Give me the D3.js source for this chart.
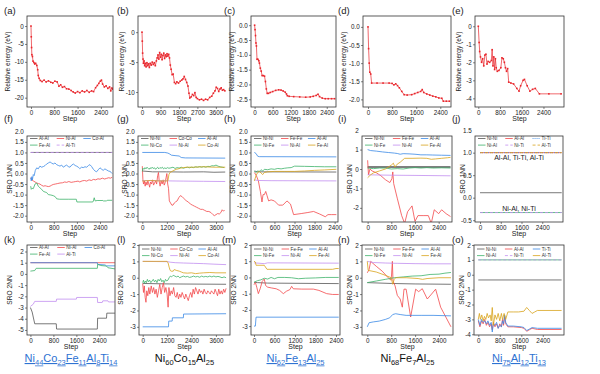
<!DOCTYPE html>
<html>
<head>
<meta charset="utf-8">
<script src="https://cdn.jsdelivr.net/npm/d3@7"></script>
<style>
body { margin: 0; background: #fff; }
svg { font-family: "Liberation Sans", Arial, sans-serif; }
</style>
</head>
<body>
<svg id="fig" width="600" height="374"></svg>
<script>
// ---- tick labels ----
const ticks600 = [0, 600, 1200, 1800, 2400];
const ticks800 = [0, 800, 1600, 2400];
const ticks900 = [0, 900, 1800, 2700, 3600];
const ticks1200 = [0, 1200, 2400, 3600];
const yTicksA = [0, -5, -10, -15, -20];
const yTicksB = [0, -5, -10];
const yTicksC = [0, -0.5, -1, -1.5, -2, -2.5];
const yTicksD = [0, -0.5, -1, -1.5, -2];
const yTicksE = [0, -1, -2, -3, -4];
const yTicks1NN = [2, 1.5, 1, 0.5, 0, -0.5, -1, -1.5, -2];
const yTicksI = [2, 1, 0, -1, -2];
const yTicksJ = [1.5, 1, 0.5, 0, -0.5];
const yTicksK = [2, 1, 0, -1, -2, -3, -4, -5];
const yTicks2NN = [2, 1, 0, -1, -2, -3];
const yTicksO = [2, 1, 0, -1, -2, -3, -4];

// ---- alloys ----
const alloyK = [["Ni", "44"], ["Co", "23"], ["Fe", "11"], ["Al", "8"], ["Ti", "14"]];
const alloyL = [["Ni", "60"], ["Co", "15"], ["Al", "25"]];
const alloyM = [["Ni", "62"], ["Fe", "13"], ["Al", "25"]];
const alloyN = [["Ni", "68"], ["Fe", "7"], ["Al", "25"]];
const alloyO = [["Ni", "75"], ["Al", "12"], ["Ti", "13"]];

// ---- relative energy [step, eV] ----
const energyA = [[0,0],[10,-3],[20,-6],[30,-8],[50,-8.5],[70,-9.8],[100,-10.2],[130,-10.6],[160,-10.4],[200,-11],[230,-12.2],[250,-13.8],[280,-14.6],[320,-15.2],[380,-15.5],[450,-15.1],[520,-15.6],[600,-15.3],[680,-15.7],[750,-15.9],[820,-15.4],[900,-15.6],[960,-16.8],[1020,-16.4],[1080,-17.1],[1150,-16.9],[1220,-17.5],[1300,-17.6],[1380,-18.0],[1450,-18.4],[1520,-18.7],[1600,-18.3],[1680,-18.6],[1760,-18.1],[1840,-18.4],[1920,-18.0],[2000,-18.5],[2080,-18.1],[2150,-18.3],[2220,-17.2],[2280,-16.6],[2330,-16.0],[2380,-15.4],[2420,-15.1],[2460,-16.2],[2520,-17.0],[2580,-16.7],[2640,-17.4],[2700,-17.0],[2740,-18.1],[2780,-17.3],[2810,-17.6]];
const energyB = [[0,0],[15,-1.5],[30,-3.5],[50,-4.5],[70,-5.2],[100,-4.8],[130,-5.6],[160,-5.2],[200,-5.8],[240,-5.1],[280,-5.6],[320,-5.3],[360,-5.9],[400,-5.2],[450,-5.5],[500,-5.0],[550,-5.4],[600,-5.1],[650,-5.6],[700,-4.8],[740,-4.3],[780,-3.8],[820,-4.5],[860,-3.4],[900,-4.2],[940,-3.7],[980,-4.6],[1020,-3.9],[1060,-3.5],[1100,-4.4],[1140,-3.8],[1180,-4.1],[1220,-3.6],[1260,-4.0],[1300,-3.7],[1340,-4.3],[1380,-5.5],[1420,-6.2],[1470,-7.1],[1520,-7.0],[1580,-8.4],[1640,-8.6],[1700,-8.3],[1780,-8.5],[1860,-8.2],[1940,-8.0],[2000,-7.8],[2060,-7.4],[2120,-7.9],[2180,-8.4],[2240,-9.0],[2290,-10.2],[2330,-11.0],[2400,-10.8],[2460,-10.4],[2520,-10.6],[2580,-10.1],[2640,-10.9],[2700,-11.1],[2800,-11.3],[2900,-11.2],[3000,-11.4],[3100,-11.2],[3200,-11.3],[3300,-10.9],[3400,-10.7],[3480,-10.2],[3560,-9.8],[3620,-9.2],[3680,-9.4],[3740,-9.9],[3800,-9.5],[3860,-9.3],[3920,-9.7],[3980,-9.6],[4040,-9.8]];
const energyC = [[0,0],[15,-0.15],[30,-0.35],[45,-0.6],[60,-0.7],[80,-1.15],[110,-1.15],[140,-1.2],[160,-1.28],[190,-1.45],[220,-1.55],[250,-1.7],[290,-1.7],[330,-1.72],[360,-1.9],[390,-2.15],[420,-2.3],[460,-2.3],[520,-2.27],[600,-2.24],[700,-2.2],[800,-2.18],[880,-2.19],[950,-2.22],[1020,-2.26],[1060,-2.32],[1090,-2.38],[1150,-2.4],[1300,-2.41],[1500,-2.42],[1700,-2.43],[1850,-2.42],[1950,-2.4],[2050,-2.37],[2110,-2.33],[2160,-2.41],[2250,-2.46],[2350,-2.48],[2450,-2.48],[2560,-2.48],[2660,-2.48]];
const energyD = [[0,0],[20,-0.6],[40,-1.0],[60,-1.25],[90,-1.3],[120,-1.55],[300,-1.55],[500,-1.55],[700,-1.55],[800,-1.56],[860,-1.6],[920,-1.57],[980,-1.62],[1040,-1.68],[1120,-1.78],[1200,-1.87],[1300,-1.88],[1450,-1.87],[1550,-1.84],[1650,-1.81],[1750,-1.78],[1800,-1.73],[1850,-1.81],[1950,-1.85],[2050,-1.88],[2150,-1.91],[2250,-1.93],[2350,-1.96],[2450,-1.97],[2500,-2.05],[2600,-2.05],[2700,-2.05]];
const energyE = [[0,0],[30,-0.9],[50,-1.4],[80,-1.7],[120,-2.0],[160,-1.8],[200,-2.2],[240,-1.6],[280,-1.55],[320,-2.1],[360,-1.95],[420,-2.0],[480,-1.9],[510,-1.3],[540,-2.2],[570,-1.7],[600,-2.4],[630,-1.8],[660,-2.3],[700,-2.5],[760,-2.45],[830,-2.3],[870,-1.75],[920,-1.8],[960,-2.0],[1000,-2.3],[1040,-2.5],[1080,-2.35],[1120,-3.1],[1200,-3.15],[1300,-3.2],[1420,-3.45],[1500,-3.6],[1560,-3.3],[1650,-3.0],[1700,-2.95],[1800,-3.3],[1900,-3.6],[2000,-3.5],[2100,-3.45],[2250,-3.75],[2600,-3.75],[3050,-3.75]];

// ---- SRO 1NN [step, value] ----
const sroF_AlAl = [[0,1],[2820,1]];
const sroF_NiAl = [[0,-0.2],[40,-0.3],[90,-0.35],[150,-0.4],[210,-0.45],[270,-0.48],[320,-0.5],[380,-0.56],[440,-0.6],[500,-0.58],[550,-0.6],[610,-0.62],[670,-0.6],[730,-0.55],[780,-0.52],[850,-0.5],[920,-0.48],[1015,-0.45],[1100,-0.44],[1180,-0.4],[1245,-0.42],[1320,-0.38],[1400,-0.42],[1480,-0.4],[1560,-0.38],[1640,-0.36],[1700,-0.4],[1780,-0.35],[1860,-0.33],[1940,-0.36],[2020,-0.3],[2100,-0.33],[2170,-0.28],[2250,-0.3],[2330,-0.25],[2400,-0.27],[2480,-0.22],[2560,-0.26],[2630,-0.23],[2700,-0.2],[2760,-0.22],[2820,-0.18]];
const sroF_CoAl = [[0,-0.2],[20,-0.35],[40,-0.15],[60,-0.3],[90,-0.05],[120,-0.1],[160,0.15],[210,0.27],[260,0.22],[320,0.35],[380,0.3],[440,0.33],[500,0.38],[550,0.45],[610,0.5],[670,0.55],[720,0.5],[780,0.45],[840,0.5],[900,0.42],[960,0.38],[1015,0.35],[1070,0.4],[1130,0.3],[1190,0.36],[1245,0.4],[1300,0.33],[1360,0.3],[1420,0.4],[1480,0.45],[1540,0.38],[1590,0.35],[1650,0.3],[1700,0.23],[1760,0.3],[1820,0.28],[1880,0.32],[1940,0.3],[2000,0.38],[2050,0.42],[2110,0.33],[2170,0.2],[2230,0.12],[2280,0.08],[2340,0.18],[2400,0.27],[2460,0.2],[2510,0.15],[2570,0.22],[2630,0.17],[2690,0.12],[2745,0.1],[2790,0.05],[2820,0.0]];
const sroF_FeAl = [[0,-0.6],[20,-0.75],[50,-0.7],[90,-0.72],[150,-0.5],[210,-0.45],[260,-0.6],[320,-0.68],[380,-0.75],[440,-0.85],[500,-0.88],[550,-0.9],[610,-1.0],[700,-1.02],[780,-1.05],[850,-1.1],[900,-1.2],[1000,-1.22],[1300,-1.22],[1580,-1.22],[1600,-1.35],[2150,-1.35],[2170,-1.3],[2200,-1.15],[2230,-1.3],[2300,-1.28],[2500,-1.28],[2520,-1.3],[2630,-1.3],[2650,-1.27],[2820,-1.27]];
const sroF_AlTi = [[0,1],[2820,1]];

const sroG_NiNi = [[0,0.12],[500,0.08],[1200,0.08],[2000,0.07],[3000,0.08],[3500,0.06],[4050,0.07]];
const sroG_CoCo = [[0,0.35],[30,-0.3],[60,-0.5],[100,-0.35],[140,-0.6],[180,-0.4],[230,-0.55],[270,-0.35],[320,-0.5],[360,-0.65],[400,-0.4],[450,-0.5],[500,-0.3],[550,-0.55],[600,-0.45],[650,-0.35],[700,-0.5],[750,-0.1],[790,0.05],[830,-0.4],[870,-0.6],[920,-0.35],[970,-0.5],[1020,-0.3],[1070,-0.55],[1110,-0.45],[1160,-0.2],[1200,0.0],[1240,-0.5],[1280,-0.7],[1320,-1.3],[1380,-1.4],[1440,-1.5],[1500,-1.5],[1560,-1.4],[1620,-1.35],[1700,-1.3],[1780,-1.15],[1860,-1.05],[1950,-1.1],[2050,-1.2],[2150,-1.3],[2250,-1.35],[2350,-1.45],[2450,-1.5],[2550,-1.55],[2650,-1.6],[2750,-1.65],[2850,-1.7],[2950,-1.7],[3050,-1.75],[3150,-1.8],[3250,-1.8],[3350,-1.85],[3450,-1.95],[3520,-2.0],[3600,-1.95],[3680,-1.9],[3760,-1.92],[3840,-1.85],[3900,-1.72],[3960,-1.78],[4020,-1.75]];
const sroG_AlAl = [[0,1.0],[1100,1.0],[1250,0.97],[1350,0.92],[1420,0.87],[1600,0.85],[1800,0.83],[1900,0.76],[2100,0.74],[4050,0.73]];
const sroG_NiCo = [[0,0.1],[30,0.25],[80,0.2],[130,0.28],[180,0.22],[230,0.3],[280,0.25],[330,0.2],[380,0.27],[430,0.23],[480,0.3],[530,0.24],[600,0.27],[650,0.2],[700,0.26],[750,0.3],[800,0.22],[860,0.28],[920,0.25],[980,0.3],[1040,0.22],[1100,0.27],[1160,0.23],[1220,0.28],[1300,0.25],[1400,0.27],[1500,0.3],[1600,0.24],[1700,0.28],[1800,0.26],[1900,0.3],[2000,0.25],[2100,0.28],[2200,0.3],[2300,0.27],[2400,0.3],[2500,0.28],[2600,0.32],[2700,0.3],[2800,0.33],[2900,0.3],[3000,0.33],[3100,0.3],[3200,0.34],[3300,0.33],[3400,0.37],[3500,0.36],[3600,0.4],[3700,0.35],[3800,0.32],[3900,0.3],[4000,0.28]];
const sroG_NiAl = [[0,-0.33],[1200,-0.34],[1300,-0.35],[2000,-0.36],[3000,-0.37],[4050,-0.38]];
const sroG_CoAl = [[0,-0.35],[100,-0.35],[400,-0.33],[800,-0.35],[1250,-0.35],[1300,-0.05],[1350,0.05],[1450,0.1],[1550,0.15],[1650,0.2],[1750,0.22],[1850,0.25],[2000,0.28],[2200,0.3],[2500,0.3],[3000,0.32],[3500,0.3],[4050,0.3]];

const sroH_NiNi = [[0,0.12],[100,0.08],[2450,0.07]];
const sroH_FeFe = [[0,0.05],[60,-0.1],[120,-0.35],[180,-0.85],[228,-1.35],[260,-1.0],[300,-1.0],[340,-0.85],[380,-1.05],[427,-1.3],[500,-1.25],[600,-1.3],[726,-1.5],[850,-1.5],[975,-1.3],[1080,-1.45],[1173,-1.95],[1400,-1.9],[1600,-1.85],[1770,-1.8],[1950,-1.92],[2120,-2.05],[2200,-1.95],[2300,-1.95],[2450,-1.95]];
const sroH_AlAl = [[0,1.0],[50,0.95],[100,0.82],[150,0.8],[2450,0.79]];
const sroH_NiFe = [[0,0.1],[50,0.05],[100,0.12],[150,0.1],[200,0.18],[250,0.12],[300,0.2],[400,0.18],[500,0.22],[600,0.2],[700,0.24],[800,0.22],[900,0.25],[1000,0.27],[1100,0.28],[1200,0.35],[1500,0.34],[1800,0.33],[2100,0.32],[2450,0.32]];
const sroH_NiAl = [[0,-0.3],[100,-0.33],[500,-0.34],[2450,-0.35]];
const sroH_FeAl = [[0,-0.35],[50,-0.1],[100,0.05],[150,0.1],[250,-0.05],[300,0.05],[400,0.08],[600,0.1],[900,0.1],[1200,0.1],[1500,0.12],[1800,0.15],[2100,0.17],[2450,0.2]];

const sroI_NiNi = [[0,0.1],[2800,0.1]];
const sroI_FeFe = [[0,0.45],[30,-0.3],[80,0],[150,-0.1],[300,-0.2],[450,-0.35],[600,-0.55],[750,-0.7],[820,-0.5],[850,-0.15],[880,-0.75],[1000,-1.5],[1150,-2.4],[1250,-2.8],[1350,-2.2],[1500,-1.9],[1600,-2.7],[1700,-2.4],[1900,-2.4],[2050,-2.4],[2150,-2.8],[2250,-2.1],[2400,-2.3],[2500,-2.1],[2650,-2.3],[2800,-2.45]];
const sroI_AlAl = [[0,1.0],[100,0.95],[300,0.92],[500,0.88],[700,0.85],[900,0.82],[1000,0.8],[1100,0.76],[1200,0.79],[1400,0.78],[1600,0.76],[1800,0.73],[2000,0.73],[2200,0.72],[2500,0.71],[2800,0.7]];
const sroI_NiFe = [[0,0.05],[200,0.02],[400,0.05],[600,0.05],[800,0.0],[1000,0.02],[1200,0.0],[1400,0.05],[1600,0.07],[1800,0.05],[2000,0.07],[2200,0.05],[2500,0.06],[2800,0.05]];
const sroI_NiAl = [[0,-0.3],[800,-0.32],[1600,-0.33],[2800,-0.35]];
const sroI_FeAl = [[0,-0.45],[100,-0.3],[200,-0.2],[400,-0.1],[600,0.0],[800,0.2],[870,0.3],[920,0.1],[1000,0.25],[1100,0.35],[1250,0.55],[1500,0.55],[1800,0.56],[2000,0.55],[2150,0.5],[2300,0.52],[2500,0.55],[2700,0.58],[2800,0.6]];

const sroJ_NiNi = [[0,0.11],[3150,0.11]];
const sroJ_AlAl = [[0,1],[3150,1]];
const sroJ_TiTi = [[0,1],[3150,1]];
const sroJ_NiAl = [[0,-0.33],[3150,-0.33]];
const sroJ_NiTi = [[0,-0.33],[3150,-0.33]];
const sroJ_AlTi = [[0,1],[3150,1]];

// ---- SRO 2NN [step, value] ----
const sroK_AlAl = [[0,-3.0],[60,-3.4],[150,-4.45],[900,-4.45],[910,-4.92],[2330,-4.92],[2340,-3.95],[2650,-3.95],[2660,-3.5],[2940,-3.5]];
const sroK_NiAl = [[0,1.0],[2940,1.0]];
const sroK_CoAl = [[0,1.0],[2330,1.0],[2340,0.85],[2600,0.8],[2650,0.72],[2940,0.72]];
const sroK_FeAl = [[0,0.25],[150,0.3],[200,0.5],[2330,0.5],[2340,0.85],[2450,0.75],[2650,0.7],[2700,0.55],[2940,0.45]];
const sroK_AlTi = [[0,-2.9],[100,-2.7],[150,-2.45],[900,-2.45],[910,-2.25],[1600,-2.25],[1610,-2.1],[2330,-2.1],[2340,-2.55],[2500,-2.55],[2520,-2.4],[2700,-2.4],[2720,-2.5],[2940,-2.5]];

const sroL_NiNi = [[0,-0.35],[1300,-0.38],[4100,-0.4]];
const sroL_CoCo = [[0,-0.35],[40,-0.9],[80,-0.5],[120,-1.2],[160,-1.5],[200,-0.8],[250,-1.1],[300,-0.6],[350,-1.0],[420,-0.5],[480,-0.9],[540,-0.6],[600,-1.0],[660,-0.7],[720,-1.2],[780,-0.8],[840,-0.4],[900,-1.0],[960,-0.6],[1020,-0.3],[1080,-0.9],[1140,-0.6],[1200,-1.0],[1250,-1.8],[1290,-0.6],[1340,-1.1],[1400,-0.8],[1460,-1.0],[1520,-0.6],[1580,-1.1],[1640,-1.2],[1700,-0.9],[1760,-1.3],[1820,-1.0],[1880,-1.2],[1940,-0.9],[2000,-1.1],[2060,-1.3],[2120,-1.0],[2180,-1.2],[2240,-1.4],[2300,-1.1],[2360,-0.9],[2420,-1.2],[2480,-0.7],[2540,-1.0],[2600,-0.6],[2660,-0.8],[2720,-1.0],[2780,-0.7],[2840,-0.9],[2900,-0.8],[2960,-1.0],[3020,-0.7],[3080,-0.9],[3140,-1.0],[3200,-0.8],[3260,-0.9],[3320,-1.0],[3380,-0.8],[3440,-0.9],[3500,-1.0],[3560,-0.7],[3620,-0.9],[3680,-1.1],[3740,-0.7],[3800,-1.0],[3860,-0.8],[3920,-1.0],[3980,-0.7],[4040,-0.9],[4100,-0.65]];
const sroL_AlAl = [[0,-3.0],[1270,-3.0],[1280,-2.65],[1450,-2.65],[1460,-2.45],[2000,-2.45],[2010,-2.22],[4100,-2.2]];
const sroL_NiCo = [[0,-0.3],[40,-0.15],[80,-0.35],[130,-0.2],[180,-0.3],[230,-0.1],[280,-0.25],[340,-0.15],[400,-0.3],[460,-0.2],[520,-0.1],[580,-0.25],[640,-0.15],[700,-0.3],[760,-0.1],[820,-0.2],[880,-0.05],[940,-0.25],[1000,-0.15],[1060,-0.3],[1120,-0.1],[1180,-0.2],[1240,-0.15],[1300,0.0],[1360,0.1],[1420,0.05],[1500,0.15],[1580,0.1],[1660,0.05],[1740,0.1],[1820,0.0],[1900,0.05],[2000,0.1],[2100,0.05],[2200,0.08],[2300,0.02],[2400,0.05],[2500,0.1],[2600,0.05],[2700,0.08],[2800,0.03],[2900,0.1],[3000,0.05],[3100,0.08],[3200,0.05],[3300,0.1],[3400,0.05],[3500,0.1],[3600,0.05],[3700,0.08],[3800,0.05],[3900,0.0],[4000,0.05],[4100,0.0]];
const sroL_NiAl = [[0,1.0],[1250,0.98],[1350,0.95],[1600,0.92],[2000,0.9],[2500,0.88],[3000,0.86],[3500,0.83],[4100,0.8]];
const sroL_CoAl = [[0,1.0],[1200,1.0],[1250,0.9],[1300,0.65],[1350,0.45],[1400,0.4],[1500,0.4],[1550,0.5],[1650,0.45],[1800,0.4],[1900,0.35],[2000,0.3],[2200,0.28],[2400,0.3],[2600,0.25],[2800,0.28],[3000,0.3],[3300,0.32],[3600,0.3],[4100,0.3]];

const sroM_NiNi = [[0,-0.3],[100,-0.32],[400,-0.35],[2480,-0.38]];
const sroM_FeFe = [[0,-0.45],[40,-0.3],[80,-0.6],[127,-1.0],[180,-0.7],[240,-0.25],[300,-0.1],[340,-0.5],[400,-0.6],[517,-0.65],[650,-0.7],[750,-0.8],[858,-1.0],[950,-0.85],[1050,-0.75],[1102,-0.55],[1150,-0.7],[1400,-0.72],[1736,-0.72],[1900,-0.8],[2127,-1.0],[2300,-1.05],[2480,-1.05]];
const sroM_AlAl = [[0,-3.0],[40,-3.0],[60,-2.45],[2480,-2.45]];
const sroM_NiFe = [[0,-0.3],[100,-0.2],[200,-0.15],[300,-0.05],[400,-0.1],[500,0.0],[600,-0.08],[700,0.0],[900,0.0],[1100,-0.02],[1300,-0.08],[1500,-0.05],[1800,-0.03],[2100,0.0],[2480,0.0]];
const sroM_NiAl = [[0,0.9],[300,0.85],[400,0.9],[2480,0.88]];
const sroM_FeAl = [[0,1.0],[40,0.95],[60,0.75],[300,0.75],[380,0.5],[2300,0.5],[2400,0.55],[2480,0.55]];

const sroN_NiNi = [[0,-0.3],[800,-0.35],[1600,-0.38],[2800,-0.4]];
const sroN_FeFe = [[0,0.3],[60,0.5],[113,1.0],[300,0.7],[500,0.4],[650,0.1],[783,-0.15],[810,0.1],[839,1.0],[860,-0.2],[930,-0.5],[1005,-1.08],[1100,-1.3],[1172,-1.8],[1228,-0.7],[1300,-0.7],[1451,-2.4],[1618,-0.7],[1720,-0.85],[1840,-0.67],[2008,-1.3],[2150,-1.0],[2287,-0.7],[2454,-1.8],[2800,-3.0]];
const sroN_AlAl = [[0,-3.0],[60,-2.75],[200,-2.7],[400,-2.65],[600,-2.55],[750,-2.45],[850,-2.25],[950,-2.2],[1100,-2.25],[1300,-2.3],[1500,-2.3],[1800,-2.3],[2200,-2.3],[2800,-2.33]];
const sroN_NiFe = [[0,-0.3],[300,-0.2],[600,-0.1],[900,0.0],[1200,0.05],[1500,0.1],[1800,0.12],[2100,0.2],[2400,0.22],[2600,0.28],[2800,0.32]];
const sroN_NiAl = [[0,1.0],[200,0.93],[600,0.9],[1000,0.88],[1600,0.86],[2200,0.85],[2800,0.85]];
const sroN_FeAl = [[0,1.0],[30,0.45],[300,0.35],[600,0.15],[800,0.0],[850,-0.4],[900,-0.1],[950,0.0],[1300,0.0],[1700,-0.05],[1850,-0.1],[2000,-0.05],[2400,0.0],[2800,0.0]];

const sroO_NiNi = [[0,-0.35],[3100,-0.35]];
const sroO_AlAl = [[0,-3.1],[60,-3.5],[120,-3.1],[180,-3.3],[240,-3.0],[300,-3.4],[360,-3.2],[420,-3.5],[480,-3.3],[520,-3.7],[560,-3.2],[620,-3.5],[680,-3.3],[740,-3.6],[800,-3.3],[860,-3.5],[900,-3.0],[940,-3.4],[980,-2.8],[1020,-3.3],[1100,-3.5],[1300,-3.5],[1600,-3.55],[1700,-3.6],[1800,-3.8],[1900,-3.7],[2000,-3.6],[2200,-3.68],[3100,-3.68]];
const sroO_TiTi = [[0,-3.0],[60,-3.4],[120,-3.0],[180,-3.2],[240,-3.1],[300,-3.3],[360,-3.1],[420,-3.4],[480,-3.2],[520,-3.85],[560,-3.3],[620,-3.4],[680,-3.2],[740,-3.6],[800,-3.4],[860,-3.5],[900,-3.1],[940,-3.3],[980,-2.7],[1020,-3.2],[1100,-3.45],[1300,-3.45],[1600,-3.5],[1700,-3.55],[1800,-3.75],[1900,-3.65],[2000,-3.55],[2200,-3.6],[3100,-3.6]];
const sroO_NiAl = [[0,1],[3100,1]];
const sroO_NiTi = [[0,1],[3100,1]];
const sroO_AlTi = [[0,-3.0],[40,-2.6],[80,-3.0],[130,-2.7],[180,-3.1],[230,-2.8],[280,-3.0],[330,-2.6],[380,-2.9],[440,-2.7],[480,-3.1],[520,-2.2],[560,-3.4],[620,-2.7],[680,-3.0],[740,-2.6],[800,-3.1],[860,-2.6],[900,-3.0],[960,-2.6],[1020,-3.0],[1100,-2.5],[1300,-2.5],[1500,-2.5],[1700,-2.45],[1800,-2.2],[1900,-2.4],[2000,-2.6],[2100,-2.5],[2200,-2.4],[3100,-2.4]];

// ---- styles ----
const GRAY = "#555555", RED = "#f2474a", BLUE = "#3a89e6", GREEN = "#3db36a", PURPLE = "#c28ef0", GOLD = "#d8a31c";
const ENERGY_RED = "#e8262c";
const LINK_BLUE = "#2e72d2";

const s = (name, data, color, dash, width) => ({ name, data, color, dash: dash || null, width: width || 0.8 });

const rows = [[16, 107], [136, 222], [245, 335]];
// baseline of the panel letters in each row
const letterY = [14, 122, 243];

const fmtInt = d => d3.format("d")(d).replace("\u2212", "-");
const fmt1 = d => d3.format(".1f")(d).replace("\u2212", "-");

const panels = [
  { id: "a", row: 0, x0: 27, x1: 113, xd: [-137, 2817], yd: [-22.6, 2.8], xt: ticks800, yt: yTicksA, yf: fmtInt, ylab: "Relative energy (eV)", ylx: 8, lx: 4, energy: energyA },
  { id: "b", row: 0, x0: 138, x1: 230, xd: [-195, 4290], yd: [-12.5, 2.7], xt: ticks900, yt: yTicksB, yf: fmtInt, ylab: "Relative energy (eV)", ylx: 122, lx: 117, energy: energyB },
  { id: "c", row: 0, x0: 251, x1: 336, xd: [-120, 2708], yd: [-2.76, 0.31], xt: ticks600, yt: yTicksC, yf: fmt1, ylab: "Relative energy (eV)", ylx: 232, lx: 224, energy: energyC },
  { id: "d", row: 0, x0: 363, x1: 451, xd: [-166, 2755], yd: [-2.21, 0.3], xt: ticks800, yt: yTicksD, yf: fmt1, ylab: "Relative energy (eV)", ylx: 344, lx: 338, energy: energyD },
  { id: "e", row: 0, x0: 475, x1: 564, xd: [-122, 3157], yd: [-4.48, 0.57], xt: ticks800, yt: yTicksE, yf: fmtInt, ylab: "Relative energy (eV)", ylx: 459, lx: 452, energy: energyE },

  { id: "f", row: 1, x0: 27, x1: 113, xd: [-128, 2850], yd: [-2.3, 1.78], xt: ticks800, yt: yTicks1NN, yf: fmt1, ylab: "SRO 1NN", ylx: 10, lx: 4, legY: 2.5,
    series: [s("Al-Al", sroF_AlAl, GRAY), s("Ni-Al", sroF_NiAl, RED), s("Co-Al", sroF_CoAl, BLUE), s("Fe-Al", sroF_FeAl, GREEN), s("Al-Ti", sroF_AlTi, PURPLE, "3,2")] },
  { id: "g", row: 1, x0: 138, x1: 230, xd: [-210, 4283], yd: [-2.3, 1.78], xt: ticks1200, yt: yTicks1NN, yf: fmt1, ylab: "SRO 1NN", ylx: 125, lx: 117, legY: 2.5,
    series: [s("Ni-Ni", sroG_NiNi, GRAY), s("Co-Co", sroG_CoCo, RED), s("Al-Al", sroG_AlAl, BLUE), s("Ni-Co", sroG_NiCo, GREEN), s("Ni-Al", sroG_NiAl, PURPLE), s("Co-Al", sroG_CoAl, GOLD)] },
  { id: "h", row: 1, x0: 251, x1: 338, xd: [-100, 2500], yd: [-2.3, 1.78], xt: ticks600, yt: yTicks1NN, yf: fmt1, ylab: "SRO 1NN", ylx: 233, lx: 224, legY: 2.5,
    series: [s("Ni-Ni", sroH_NiNi, GRAY), s("Fe-Fe", sroH_FeFe, RED), s("Al-Al", sroH_AlAl, BLUE), s("Ni-Fe", sroH_NiFe, GREEN), s("Ni-Al", sroH_NiAl, PURPLE), s("Fe-Al", sroH_FeAl, GOLD)] },
  { id: "i", row: 1, x0: 362, x1: 452, xd: [-190, 2850], yd: [-2.73, 1.7], xt: ticks800, yt: yTicksI, yf: fmtInt, ylab: "SRO 1NN", ylx: 350, lx: 338, legY: 2.5,
    series: [s("Ni-Ni", sroI_NiNi, GRAY, null, 1.6), s("Fe-Fe", sroI_FeFe, RED), s("Al-Al", sroI_AlAl, BLUE), s("Ni-Fe", sroI_NiFe, GREEN), s("Ni-Al", sroI_NiAl, PURPLE), s("Fe-Al", sroI_FeAl, GOLD)] },
  { id: "j", row: 1, x0: 475, x1: 563, xd: [-194, 3200], yd: [-0.54, 1.37], xt: ticks800, yt: yTicksJ, yf: fmt1, ylab: "SRO 1NN", ylx: 463, lx: 452, legY: 2.5,
    series: [s("Ni-Ni", sroJ_NiNi, GRAY), s("Al-Al", sroJ_AlAl, RED), s("Ti-Ti", sroJ_TiTi, BLUE, "1,1"), s("Ni-Al", sroJ_NiAl, GREEN), s("Ni-Ti", sroJ_NiTi, PURPLE, "3,2"), s("Al-Ti", sroJ_AlTi, GOLD, "3,2")],
    notes: [["Al-Al, Ti-Ti, Al-Ti", 0.9], ["Ni-Al, Ni-Ti", -0.24]] },

  { id: "k", row: 2, x0: 27, x1: 115, xd: [-119, 2945], yd: [-5.45, 2.58], xt: ticks800, yt: yTicksK, yf: fmtInt, ylab: "SRO 2NN", ylx: 10, lx: 4, legY: 2.5, alloy: alloyK, link: true,
    series: [s("Al-Al", sroK_AlAl, GRAY), s("Ni-Al", sroK_NiAl, RED), s("Co-Al", sroK_CoAl, BLUE), s("Fe-Al", sroK_FeAl, GREEN), s("Al-Ti", sroK_AlTi, PURPLE)] },
  { id: "l", row: 2, x0: 139, x1: 230, xd: [-182, 4293], yd: [-3.5, 2], xt: ticks1200, yt: yTicks2NN, yf: fmtInt, ylab: "SRO 2NN", ylx: 121, lx: 117, legY: 4, alloy: alloyL, link: false,
    series: [s("Ni-Ni", sroL_NiNi, GRAY), s("Co-Co", sroL_CoCo, RED), s("Al-Al", sroL_AlAl, BLUE), s("Ni-Co", sroL_NiCo, GREEN), s("Ni-Al", sroL_NiAl, PURPLE), s("Co-Al", sroL_CoAl, GOLD)] },
  { id: "m", row: 2, x0: 251, x1: 340, xd: [-88, 2517], yd: [-3.55, 2], xt: ticks600, yt: yTicks2NN, yf: fmtInt, ylab: "SRO 2NN", ylx: 234, lx: 222, legY: 4, alloy: alloyM, link: true,
    series: [s("Ni-Ni", sroM_NiNi, GRAY), s("Fe-Fe", sroM_FeFe, RED), s("Al-Al", sroM_AlAl, BLUE), s("Ni-Fe", sroM_NiFe, GREEN), s("Ni-Al", sroM_NiAl, PURPLE), s("Fe-Al", sroM_FeAl, GOLD)] },
  { id: "n", row: 2, x0: 362, x1: 453, xd: [-177, 2868], yd: [-3.5, 2], xt: ticks800, yt: yTicks2NN, yf: fmtInt, ylab: "SRO 2NN", ylx: 350, lx: 338, legY: 4, alloy: alloyN, link: false,
    series: [s("Ni-Ni", sroN_NiNi, GRAY), s("Fe-Fe", sroN_FeFe, RED), s("Al-Al", sroN_AlAl, BLUE), s("Ni-Fe", sroN_NiFe, GREEN), s("Ni-Al", sroN_NiAl, PURPLE), s("Fe-Al", sroN_FeAl, GOLD)] },
  { id: "o", row: 2, x0: 474, x1: 564, xd: [-160, 3189], yd: [-4.05, 2], xt: ticks800, yt: yTicksO, yf: fmtInt, ylab: "SRO 2NN", ylx: 462, lx: 452, legY: 4, alloy: alloyO, link: true,
    series: [s("Ni-Ni", sroO_NiNi, GRAY), s("Al-Al", sroO_AlAl, RED), s("Ti-Ti", sroO_TiTi, BLUE), s("Ni-Al", sroO_NiAl, GREEN), s("Ni-Ti", sroO_NiTi, PURPLE, "3,2"), s("Al-Ti", sroO_AlTi, GOLD)] }
];

const svg = d3.select("#fig");
const defs = svg.append("defs");

panels.forEach(p => {
  const [top, bot] = rows[p.row];
  const x = d3.scaleLinear().domain(p.xd).range([p.x0, p.x1]);
  const y = d3.scaleLinear().domain(p.yd).range([bot, top]);
  const g = svg.append("g").attr("class", "panel-" + p.id);

  //Clip area
  defs.append("clipPath").attr("id", "clip-" + p.id)
    .append("rect")
    .attr("x", p.x0).attr("y", top)
    .attr("width", p.x1 - p.x0).attr("height", bot - top);
  const plot = g.append("g").attr("clip-path", `url(#clip-${p.id})`);

  const line = d3.line().x(d => x(d[0])).y(d => y(d[1]));

  if (p.energy) {
    plot.append("path")
      .datum(p.energy)
      .attr("fill", "none")
      .attr("stroke", ENERGY_RED)
      .attr("stroke-width", 0.7)
      .attr("d", line);
    plot.selectAll("rect.mk")
      .data(p.energy)
      .join("rect")
      .attr("class", "mk")
      .attr("x", d => x(d[0]) - 0.8)
      .attr("y", d => y(d[1]) - 0.8)
      .attr("width", 1.6)
      .attr("height", 1.6)
      .attr("fill", ENERGY_RED);
  } else {
    plot.selectAll("path.sro")
      .data(p.series)
      .join("path")
      .attr("class", "sro")
      .attr("fill", "none")
      .attr("stroke", d => d.color)
      .attr("stroke-width", d => d.width)
      .attr("stroke-dasharray", d => d.dash)
      .attr("d", d => line(d.data));

    //Legend
    const w = p.x1 - p.x0;
    const leg = g.selectAll("g.leg")
      .data(p.series)
      .join("g")
      .attr("class", "leg")
      .attr("transform", (d, i) => `translate(${p.x0 + 3 + (i % 3) * w * 0.31},${top + p.legY + Math.floor(i / 3) * 6.6})`);
    leg.append("line")
      .attr("x1", 0).attr("x2", 7.5)
      .attr("stroke", d => d.color)
      .attr("stroke-width", 0.8)
      .attr("stroke-dasharray", d => d.dash);
    leg.append("text")
      .attr("x", 9)
      .attr("dy", "0.35em")
      .attr("font-size", 4.6)
      .attr("fill", "#333")
      .text(d => d.name);

    if (p.notes) {
      g.selectAll("text.note")
        .data(p.notes)
        .join("text")
        .attr("class", "note")
        .attr("x", (p.x0 + p.x1) / 2)
        .attr("y", d => y(d[1]))
        .attr("dy", "0.35em")
        .attr("text-anchor", "middle")
        .attr("font-size", 7)
        .attr("fill", "#222")
        .text(d => d[0]);
    }
  }

  //Axes
  const ax = g.append("g")
    .attr("transform", `translate(0,${bot})`)
    .call(d3.axisBottom(x).tickValues(p.xt).tickSize(2).tickPadding(1.2).tickFormat(fmtInt));
  const ay = g.append("g")
    .attr("transform", `translate(${p.x0},0)`)
    .call(d3.axisLeft(y).tickValues(p.yt).tickSize(2).tickPadding(1.2).tickFormat(p.yf));
  [ax, ay].forEach(a => {
    a.select(".domain").remove();
    a.selectAll("line").attr("stroke", "#333").attr("stroke-width", 0.6);
    a.selectAll("text").attr("font-size", 6.3).attr("fill", "#222").attr("font-family", null);
  });
  ay.selectAll(".tick").filter(d => y(d) < top - 0.5).select("line").remove();

  //Frame
  g.append("rect")
    .attr("x", p.x0).attr("y", top)
    .attr("width", p.x1 - p.x0).attr("height", bot - top)
    .attr("fill", "none")
    .attr("stroke", "#333")
    .attr("stroke-width", 0.8);

  //Labels
  g.append("text")
    .attr("x", (p.x0 + p.x1) / 2)
    .attr("y", bot + 14)
    .attr("text-anchor", "middle")
    .attr("font-size", 7)
    .attr("fill", "#222")
    .text("Step");
  g.append("text")
    .attr("transform", `translate(${p.ylx},${(top + bot) / 2}) rotate(-90)`)
    .attr("text-anchor", "middle")
    .attr("dy", "0.35em")
    .attr("font-size", 6.6)
    .attr("fill", "#222")
    .text(p.ylab);
  g.append("text")
    .attr("x", p.lx)
    .attr("y", letterY[p.row])
    .attr("font-size", 9.5)
    .attr("fill", "#222")
    .text(`(${p.id})`);

  //Alloy name
  if (p.alloy) {
    const t = g.append("text")
      .attr("x", (p.x0 + p.x1) / 2)
      .attr("y", 362)
      .attr("text-anchor", "middle")
      .attr("font-size", 11)
      .attr("fill", p.link ? LINK_BLUE : "#111")
      .style("text-decoration", p.link ? "underline" : "none");
    p.alloy.forEach(([el, n], i) => {
      t.append("tspan").attr("dy", i ? -2.5 : 0).text(el);
      t.append("tspan").attr("font-size", 7.5).attr("dy", 2.5).text(n);
    });
  }
});
</script>
</body>
</html>
